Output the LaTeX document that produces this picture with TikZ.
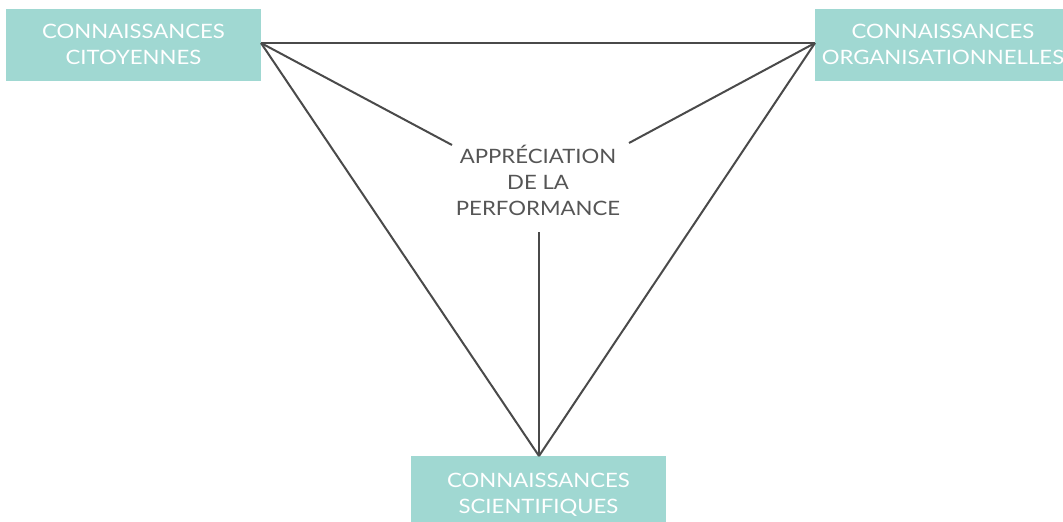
\documentclass[tikz,border=0pt]{standalone}
\usepackage{fontspec}
\setmainfont{Lato}[FakeStretch=1.12]
\definecolor{boxteal}{HTML}{A0D8D2}
\definecolor{linegray}{HTML}{4A4A4A}
\definecolor{textgray}{HTML}{555555}
\tikzset{
  kbox/.style={fill=boxteal, draw=none, inner sep=0pt},
  ktext/.style={text=white, align=center, font=\fontsize{19.8}{26}\selectfont},
  atext/.style={text=textgray, align=center, font=\fontsize{19.8}{26}\selectfont},
  link/.style={draw=linegray, line width=2pt}
}
\begin{document}
\begin{tikzpicture}[x=1pt,y=-1pt]
\useasboundingbox (0,0) rectangle (1063,522);
\node[kbox, minimum width=255pt, minimum height=72pt] (cit) at (133.5,45) {};
\node[ktext] (citt) at (133.5,44) {CONNAISSANCES\\CITOYENNES};
\node[kbox, minimum width=250pt, minimum height=72pt, anchor=west] (org) at (815,45) {};
\node[ktext] (orgt) at (943,44) {CONNAISSANCES\\ORGANISATIONNELLES};
\node[kbox, minimum width=255pt, minimum height=72pt, anchor=north] (sci) at (538.5,456) {};
\node[ktext] (scit) at (538.5,495) {CONNAISSANCES\\SCIENTIFIQUES};
\node[atext] (app) at (538,180) {APPRÉCIATION\\DE LA\\PERFORMANCE};
\coordinate (citc) at (261,43);
\coordinate (orgc) at (815,43);
\coordinate (scic) at (539,456);
\coordinate (appl) at (452,145);
\coordinate (appr) at (629,143);
\coordinate (appb) at (539,232);
\draw[link] (citc) -- (orgc);
\draw[link] (citc) -- (scic);
\draw[link] (orgc) -- (scic);
\draw[link] (citc) -- (appl);
\draw[link] (orgc) -- (appr);
\draw[link] (appb) -- (scic);
\end{tikzpicture}
\end{document}
